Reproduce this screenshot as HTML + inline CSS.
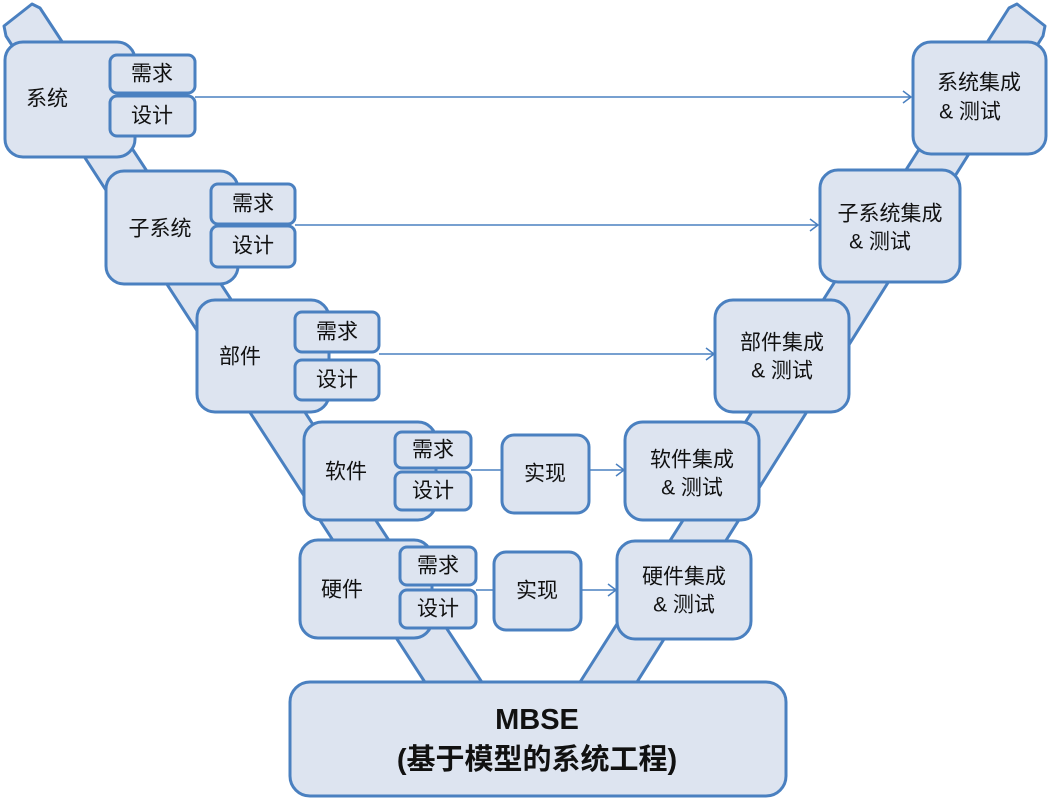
<!DOCTYPE html>
<html><head><meta charset="utf-8"><style>
html,body{margin:0;padding:0;background:#fff;}
svg{display:block;}
text{font-family:"Liberation Sans","Noto Sans CJK SC",sans-serif;font-size:21px;fill:#111;text-anchor:middle;dominant-baseline:central;}
.b{fill:#dde4f0;stroke:#4a80c0;stroke-width:3;}
.l{stroke:#4a80c0;stroke-width:1.5;fill:none;}
</style></head><body>
<svg width="1049" height="799" viewBox="0 0 1049 799">
<polygon class="b" stroke-linejoin="round" points="4,26 32,4 40,8 487,690 430,690 6,36"/>
<polygon class="b" stroke-linejoin="round" points="1045,26 1017,4 1009,8 575,690 632,690 1043,36"/>
<g class="b">
<rect x="5" y="42" width="130" height="115" rx="18"/>
<rect x="110" y="55" width="85" height="38" rx="7"/>
<rect x="110" y="96" width="85" height="40" rx="7"/>
<rect x="106" y="171" width="132" height="113" rx="18"/>
<rect x="211" y="184" width="84" height="40" rx="7"/>
<rect x="211" y="226" width="84" height="41" rx="7"/>
<rect x="197" y="300" width="132" height="112" rx="18"/>
<rect x="295" y="312" width="84" height="40" rx="7"/>
<rect x="295" y="360" width="84" height="40" rx="7"/>
<rect x="304" y="422" width="132" height="98" rx="18"/>
<rect x="395" y="432" width="76" height="36" rx="7"/>
<rect x="395" y="472" width="76" height="38" rx="7"/>
<rect x="300" y="540" width="132" height="98" rx="18"/>
<rect x="400" y="547" width="76" height="38" rx="7"/>
<rect x="400" y="590" width="76" height="38" rx="7"/>
<rect x="502" y="435" width="87" height="78" rx="12"/>
<rect x="494" y="552" width="87" height="78" rx="12"/>
<rect x="913" y="42" width="133" height="112" rx="18"/>
<rect x="820" y="170" width="140" height="112" rx="18"/>
<rect x="715" y="300" width="134" height="112" rx="18"/>
<rect x="625" y="422" width="134" height="98" rx="18"/>
<rect x="617" y="541" width="134" height="98" rx="18"/>
<rect x="290" y="682" width="496" height="114" rx="20"/>
</g>
<g class="l">
<path d="M195 97H911M903 91l8 6-8 6"/>
<path d="M295 225H818M810 219l8 6-8 6"/>
<path d="M379 354H714M706 348l8 6-8 6"/>
<path d="M471 470H502M589 470H624M616 464l8 6-8 6"/>
<path d="M476 590H494M581 590H616M608 584l8 6-8 6"/>
</g>
<text x="47" y="99">系统</text><text x="152" y="74">需求</text><text x="152" y="116">设计</text>
<text x="160" y="229">子系统</text><text x="253" y="204">需求</text><text x="253" y="246">设计</text>
<text x="240" y="357">部件</text><text x="337" y="332">需求</text><text x="337" y="380">设计</text>
<text x="346" y="472">软件</text><text x="433" y="450">需求</text><text x="433" y="491">设计</text>
<text x="342" y="590">硬件</text><text x="438" y="566">需求</text><text x="438" y="609">设计</text>
<text x="545" y="474">实现</text><text x="537" y="591">实现</text>
<text x="979" y="83">系统集成</text><text x="970" y="112">&amp; 测试</text>
<text x="890" y="214">子系统集成</text><text x="880" y="242">&amp; 测试</text>
<text x="782" y="343">部件集成</text><text x="782" y="371">&amp; 测试</text>
<text x="692" y="460">软件集成</text><text x="692" y="488">&amp; 测试</text>
<text x="684" y="577">硬件集成</text><text x="684" y="605">&amp; 测试</text>
<text x="537" y="720" style="font-size:29px;font-weight:bold">MBSE</text>
<text x="537" y="760" style="font-size:29px;font-weight:bold">(基于模型的系统工程)</text>
</svg>
</body></html>
